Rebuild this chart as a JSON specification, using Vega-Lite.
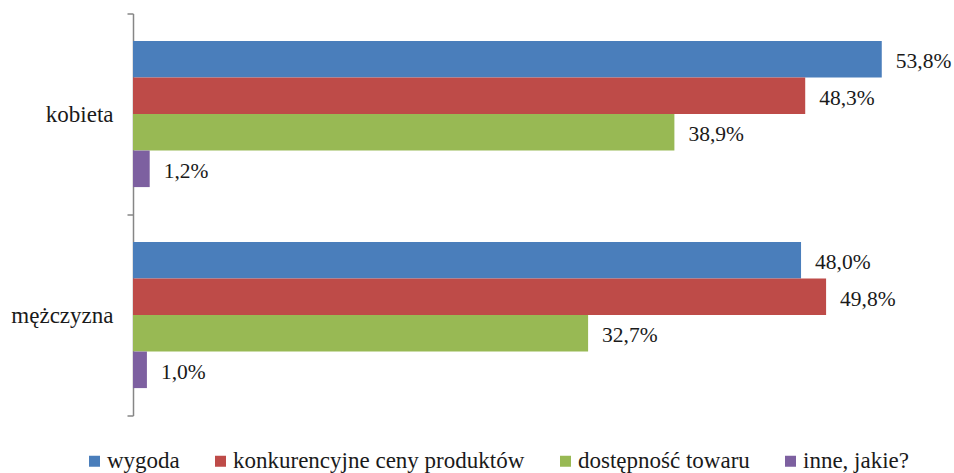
{
  "$schema": "https://vega.github.io/schema/vega-lite/v6.json",
  "autosize": "none",
  "width": 810,
  "height": 402,
  "padding": {"left": 133, "top": 13.5, "right": 11, "bottom": 57.5},
  "background": "white",
  "config": {
    "locale": {"number": {"decimal": ",", "thousands": " ", "grouping": [3], "currency": ["", " zł"]}},
    "view": {"stroke": null}
  },
  "data": {
    "values": [
      {"plec": "kobieta", "powod": "wygoda", "v": 0.538},
      {"plec": "kobieta", "powod": "konkurencyjne ceny produktów", "v": 0.483},
      {"plec": "kobieta", "powod": "dostępność towaru", "v": 0.389},
      {"plec": "kobieta", "powod": "inne, jakie?", "v": 0.012},
      {"plec": "mężczyzna", "powod": "wygoda", "v": 0.480},
      {"plec": "mężczyzna", "powod": "konkurencyjne ceny produktów", "v": 0.498},
      {"plec": "mężczyzna", "powod": "dostępność towaru", "v": 0.327},
      {"plec": "mężczyzna", "powod": "inne, jakie?", "v": 0.010}
    ]
  },
  "encoding": {
    "y": {
      "field": "plec", "type": "nominal", "sort": ["kobieta", "mężczyzna"],
      "scale": {"paddingInner": 0, "paddingOuter": 0},
      "axis": {
        "title": null, "domainColor": "#868686", "domainWidth": 1.5, "tickColor": "#868686", "tickWidth": 1.5,
        "tickSize": 6, "tickBand": "extent", "labelPadding": 14, "labelFontSize": 23,
        "labelColor": "#1a1a1a", "labelFont": "Liberation Serif"
      }
    },
    "yOffset": {
      "field": "powod", "type": "nominal",
      "sort": ["wygoda", "konkurencyjne ceny produktów", "dostępność towaru", "inne, jakie?"],
      "scale": {"paddingInner": 0, "paddingOuter": 0.75}
    },
    "x": {"field": "v", "type": "quantitative", "scale": {"domain": [0, 0.582], "nice": false}, "axis": null}
  },
  "layer": [
    {
      "mark": {"type": "bar"},
      "encoding": {
        "color": {
          "field": "powod", "type": "nominal",
          "scale": {
            "domain": ["wygoda", "konkurencyjne ceny produktów", "dostępność towaru", "inne, jakie?"],
            "range": ["#4a7ebb", "#be4b48", "#98b954", "#7d60a0"]
          },
          "legend": {
            "title": null, "orient": "none", "direction": "horizontal", "columns": 4,
            "legendX": -50, "legendY": 436, "padding": 0,
            "symbolType": "square", "symbolSize": 121, "symbolStrokeWidth": 0,
            "labelFontSize": 23, "labelFont": "Liberation Serif", "labelColor": "#1a1a1a",
            "labelOffset": 1, "columnPadding": 29, "labelLimit": 400
          }
        }
      }
    },
    {
      "mark": {"type": "text", "align": "left", "baseline": "middle", "dx": 14, "dy": 3, "fontSize": 21.5, "font": "Liberation Serif", "color": "#1a1a1a"},
      "encoding": {"text": {"field": "v", "type": "quantitative", "format": ".1%"}}
    }
  ]
}
